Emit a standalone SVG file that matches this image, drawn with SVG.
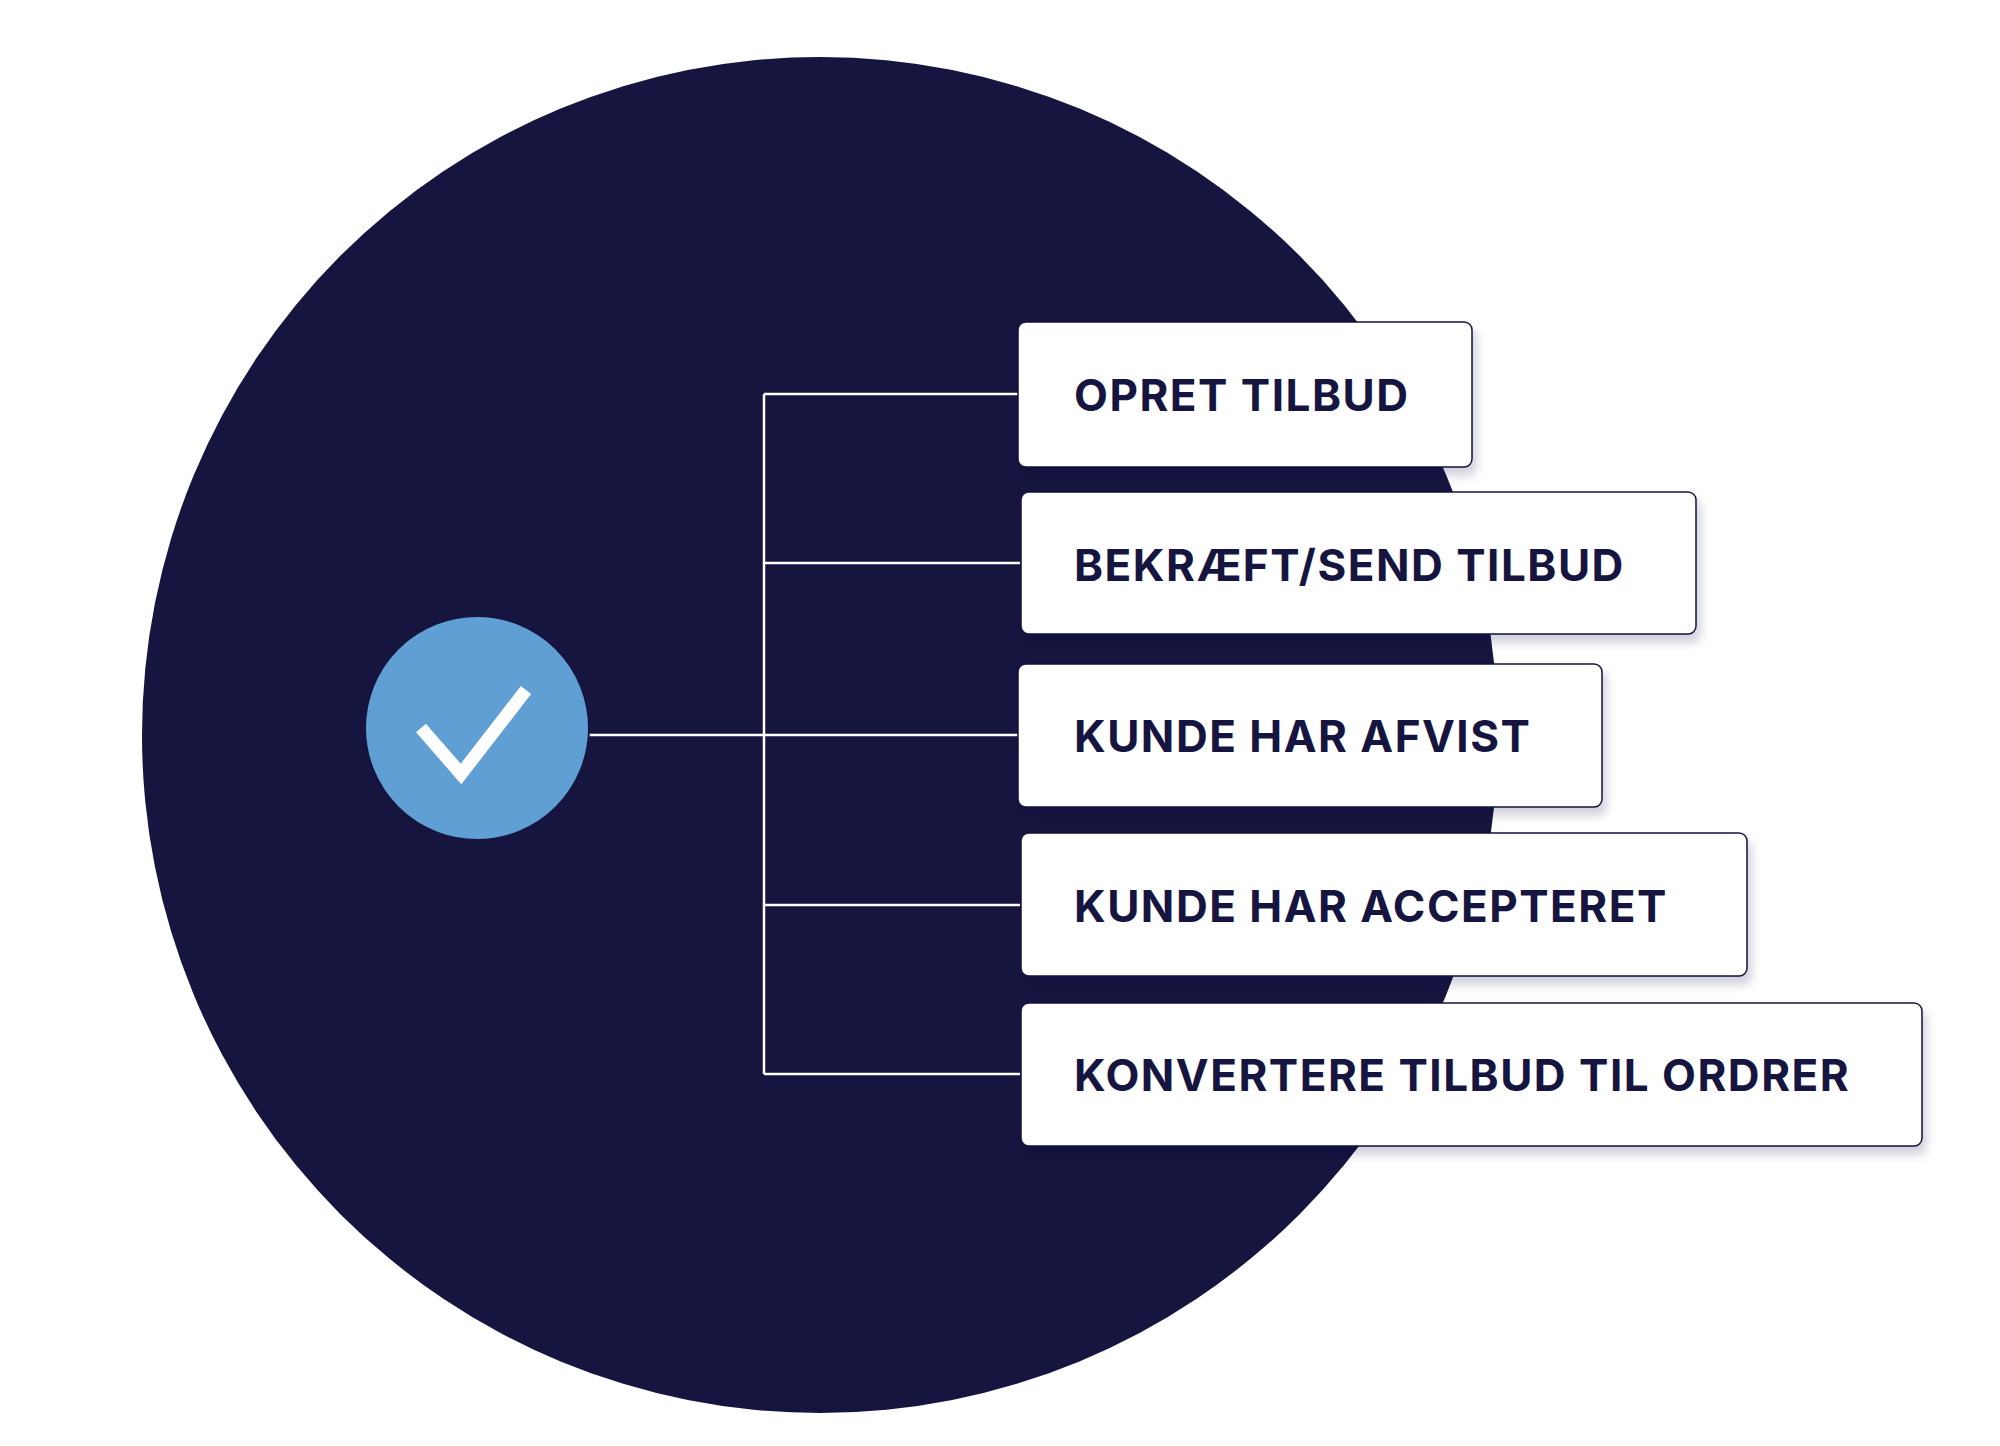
<svg xmlns="http://www.w3.org/2000/svg" width="2000" height="1446" viewBox="0 0 2000 1446">
<defs>
<filter id="sh" x="-5%" y="-10%" width="115%" height="130%"><feDropShadow dx="4" dy="8" stdDeviation="5" flood-color="#16153f" flood-opacity="0.18"/></filter>
<style>
.box{fill:#fff;stroke:#16153f;stroke-width:1.5;filter:url(#sh)}
.lbl{font-family:"Inter","Liberation Sans",sans-serif;font-weight:700;font-size:44px;fill:#16153f;letter-spacing:1.5px}
.con{fill:none;stroke:#fff;stroke-width:2.5}
</style>
</defs>
<rect width="2000" height="1446" fill="#fff"/>
<circle cx="820" cy="735" r="678" fill="#16153f"/>
<g id="connectors">
<path class="con" d="M589 735H1020M764 394V1074M764 394H1020M764 563H1020M764 905H1020M764 1074H1020"/>
</g>
<g id="check">
<circle cx="477" cy="728" r="112" fill="#609fd3" stroke="#16153f" stroke-width="2"/>
<polyline points="421,728 461,774 526,690" fill="none" stroke="#fff" stroke-width="13"/>
</g>
<g id="n1"><rect class="box" x="1018" y="322" width="454" height="145" rx="8"/><text class="lbl" x="1074" y="411">OPRET TILBUD</text></g>
<g id="n2"><rect class="box" x="1021" y="492" width="675" height="142" rx="8"/><text class="lbl" x="1074" y="581">BEKRÆFT/SEND TILBUD</text></g>
<g id="n3"><rect class="box" x="1018" y="664" width="584" height="143" rx="8"/><text class="lbl" x="1074" y="752">KUNDE HAR AFVIST</text></g>
<g id="n4"><rect class="box" x="1021" y="833" width="726" height="143" rx="8"/><text class="lbl" x="1074" y="922">KUNDE HAR ACCEPTERET</text></g>
<g id="n5"><rect class="box" x="1021" y="1003" width="901" height="143" rx="8"/><text class="lbl" x="1074" y="1091">KONVERTERE TILBUD TIL ORDRER</text></g>
</svg>
